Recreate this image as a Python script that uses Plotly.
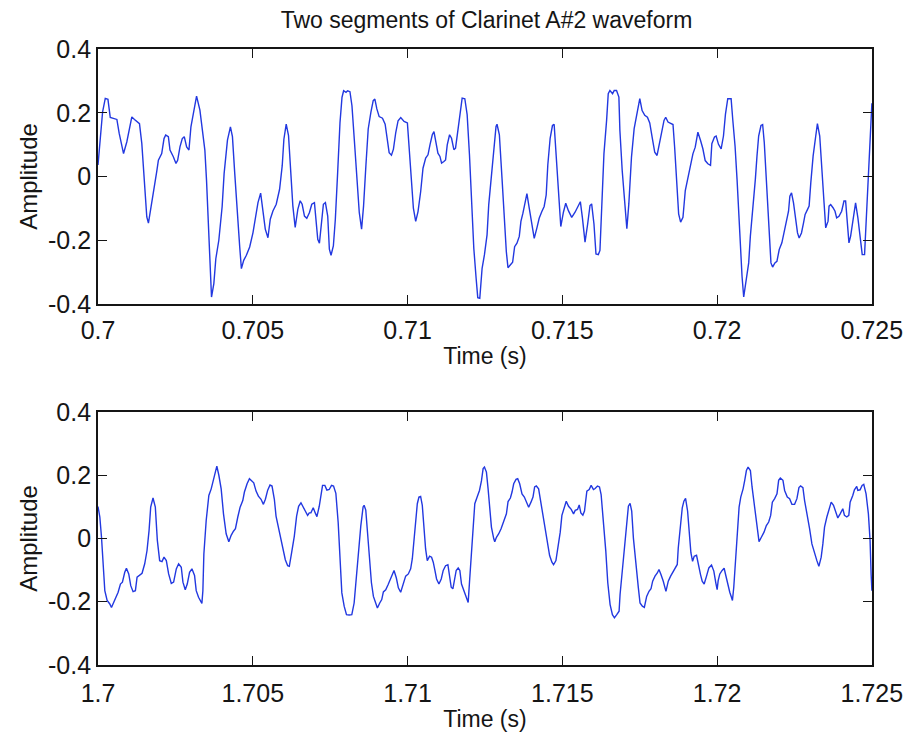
import plotly.graph_objects as go

# ---------------- data ----------------
seg1_start = 0.700   # s
seg2_start = 1.700   # s

# segment 1: time offsets in ms from 0.700 s, amplitude
top_ms = [
    0.000, 0.074, 0.149, 0.235, 0.321, 0.396, 0.503, 0.610, 0.685, 0.825,
    0.932, 1.018, 1.093, 1.179, 1.254, 1.340, 1.415, 1.500, 1.576, 1.629,
    1.683, 1.790, 1.897, 1.951, 2.058, 2.133, 2.187, 2.273, 2.326, 2.433,
    2.519, 2.573, 2.648, 2.723, 2.787, 2.863, 2.938, 3.002, 3.077, 3.184,
    3.292, 3.366, 3.452, 3.506, 3.560, 3.613, 3.667, 3.742, 3.806, 3.903,
    4.010, 4.074, 4.182, 4.278, 4.343, 4.418, 4.504, 4.578, 4.632, 4.707,
    4.793, 4.900,
    5.007, 5.093, 5.168, 5.254, 5.329, 5.404, 5.490, 5.565, 5.651, 5.758,
    5.866, 5.951, 6.005, 6.080, 6.155, 6.219, 6.294, 6.370, 6.455, 6.531,
    6.595, 6.670, 6.745, 6.831, 6.906, 6.992, 7.045, 7.099, 7.153, 7.206,
    7.281, 7.346, 7.421, 7.474, 7.528, 7.603, 7.667, 7.742, 7.818, 7.882,
    7.935, 8.011, 8.064, 8.139, 8.204, 8.279, 8.354, 8.440, 8.515, 8.579,
    8.654, 8.729, 8.815, 8.890, 8.944, 9.008, 9.083, 9.190, 9.276, 9.330,
    9.405, 9.480, 9.544, 9.619, 9.694, 9.780, 9.855,
    9.887, 9.995, 10.048, 10.123, 10.188, 10.263, 10.338, 10.424, 10.499, 10.585,
    10.660, 10.724, 10.799, 10.853, 10.906, 10.981, 11.046, 11.099, 11.174, 11.228,
    11.282, 11.357, 11.421, 11.496, 11.550, 11.625, 11.711, 11.764, 11.850, 11.925,
    12.000, 12.065, 12.140, 12.215, 12.268, 12.333, 12.408, 12.483, 12.568, 12.622,
    12.697, 12.783, 12.858, 12.890, 12.966, 13.051, 13.126, 13.191, 13.244, 13.319,
    13.394, 13.459, 13.534, 13.609, 13.662, 13.727, 13.781, 13.856, 13.931, 14.016,
    14.092, 14.177, 14.252, 14.338, 14.413, 14.478, 14.531, 14.606, 14.681, 14.735,
    14.800, 14.875,
    14.950, 15.035, 15.110, 15.196, 15.303, 15.411, 15.518, 15.582, 15.647, 15.733,
    15.818, 15.894, 15.947, 16.022, 16.087, 16.162, 16.215, 16.269, 16.344, 16.430,
    16.483, 16.537, 16.623, 16.676, 16.751, 16.827, 16.859, 16.934, 17.020, 17.084,
    17.148, 17.234, 17.320, 17.416, 17.502, 17.577, 17.663, 17.749, 17.824, 17.899,
    17.985, 18.060, 18.124, 18.221, 18.285, 18.339, 18.414, 18.489, 18.575, 18.628,
    18.703, 18.757, 18.821, 18.897, 18.972, 19.058, 19.133, 19.218, 19.293, 19.379,
    19.465, 19.540, 19.615, 19.701, 19.787, 19.830, 19.915,
    19.969, 20.044, 20.130, 20.205, 20.269, 20.344, 20.452, 20.505, 20.580, 20.644,
    20.698, 20.752, 20.805, 20.859, 20.934, 21.020, 21.074, 21.149, 21.235, 21.288,
    21.342, 21.417, 21.471, 21.524, 21.599, 21.664, 21.739, 21.792, 21.867, 21.932,
    22.007, 22.092, 22.146, 22.221, 22.307, 22.350, 22.404, 22.468, 22.543, 22.597,
    22.650, 22.725, 22.790, 22.843, 22.918, 22.972, 23.026, 23.101, 23.186, 23.240,
    23.315, 23.380, 23.455, 23.508, 23.584, 23.616, 23.669, 23.744, 23.809, 23.862,
    23.937, 24.023, 24.098, 24.151, 24.205, 24.259, 24.313, 24.388, 24.473, 24.548,
    24.613, 24.688, 24.763, 24.817, 24.881, 24.935, 24.989, 25.000,
]
top_amp = [
    0.036, 0.125, 0.203, 0.245, 0.242, 0.185, 0.182, 0.179, 0.135, 0.072,
    0.109, 0.146, 0.187, 0.179, 0.174, 0.166, 0.104, -0.012, -0.127, -0.146,
    -0.116, -0.043, 0.015, 0.051, 0.072, 0.119, 0.130, 0.125, 0.083, 0.062,
    0.041, 0.051, 0.093, 0.119, 0.125, 0.093, 0.083, 0.156, 0.198, 0.252,
    0.208, 0.146, 0.083, -0.012, -0.148, -0.284, -0.378, -0.336, -0.258, -0.200,
    -0.095, 0.009, 0.114, 0.156, 0.125, 0.009, -0.127, -0.221, -0.289, -0.263,
    -0.247, -0.221,
    -0.176, -0.118, -0.082, -0.052, -0.103, -0.165, -0.192, -0.134, -0.108, -0.087,
    -0.040, 0.034, 0.117, 0.164, 0.128, 0.013, -0.092, -0.160, -0.103, -0.076,
    -0.087, -0.124, -0.131, -0.113, -0.087, -0.082, -0.134, -0.197, -0.209, -0.155,
    -0.087, -0.082, -0.124, -0.228, -0.247, -0.218, -0.134, 0.013, 0.170, 0.248,
    0.269, 0.264, 0.269, 0.266, 0.222, 0.117, -0.008, -0.113, -0.165, -0.092,
    0.034, 0.149, 0.201, 0.238, 0.243, 0.212, 0.188, 0.183, 0.164, 0.128,
    0.075, 0.067, 0.086, 0.138, 0.175, 0.185, 0.175,
    0.173, 0.168, 0.099, -0.026, -0.099, -0.141, -0.110, -0.047, 0.026, 0.058,
    0.068, 0.099, 0.131, 0.141, 0.115, 0.073, 0.063, 0.042, 0.047, 0.052,
    0.099, 0.131, 0.120, 0.084, 0.089, 0.141, 0.199, 0.246, 0.244, 0.194,
    0.068, -0.068, -0.225, -0.319, -0.380, -0.382, -0.288, -0.246, -0.183, -0.089,
    -0.005, 0.089, 0.157, 0.164, 0.131, -0.005, -0.131, -0.236, -0.286, -0.277,
    -0.269, -0.220, -0.209, -0.188, -0.141, -0.115, -0.089, -0.054, -0.099, -0.152,
    -0.194, -0.162, -0.131, -0.110, -0.094, -0.058, 0.037, 0.120, 0.160, 0.164,
    0.068, -0.068,
    -0.157, -0.112, -0.084, -0.107, -0.128, -0.112, -0.091, -0.079, -0.128, -0.206,
    -0.149, -0.091, -0.086, -0.149, -0.243, -0.245, -0.232, -0.086, 0.071, 0.176,
    0.260, 0.270, 0.260, 0.270, 0.270, 0.249, 0.145, 0.019, -0.096, -0.164,
    -0.086, 0.061, 0.150, 0.207, 0.244, 0.207, 0.192, 0.186, 0.168, 0.124,
    0.076, 0.066, 0.103, 0.145, 0.176, 0.186, 0.171, 0.168, 0.163, 0.092,
    -0.023, -0.117, -0.143, -0.128, -0.044, -0.002, 0.029, 0.071, 0.092, 0.139,
    0.113, 0.087, 0.050, 0.040, 0.035, 0.103, 0.124,
    0.127, 0.101, 0.087, 0.127, 0.195, 0.244, 0.244, 0.179, 0.095, -0.009,
    -0.125, -0.229, -0.313, -0.378, -0.334, -0.271, -0.187, -0.114, -0.009, 0.064,
    0.127, 0.160, 0.163, 0.106, -0.030, -0.156, -0.271, -0.284, -0.271, -0.266,
    -0.229, -0.208, -0.182, -0.151, -0.109, -0.062, -0.051, -0.083, -0.130, -0.177,
    -0.193, -0.177, -0.146, -0.119, -0.104, -0.093, -0.020, 0.064, 0.127, 0.166,
    0.127, 0.043, -0.083, -0.161, -0.140, -0.093, -0.088, -0.098, -0.109, -0.130,
    -0.125, -0.109, -0.077, -0.077, -0.146, -0.208, -0.187, -0.130, -0.083, -0.130,
    -0.187, -0.245, -0.245, -0.146, -0.030, 0.095, 0.200, 0.230,
]

# segment 2: time offsets in ms from 1.700 s, amplitude
bot_ms = [
    0.000, 0.059, 0.113, 0.166, 0.220, 0.295, 0.381, 0.435, 0.510, 0.574,
    0.650, 0.725, 0.789, 0.864, 0.918, 0.993, 1.058, 1.133, 1.208, 1.262,
    1.348, 1.423, 1.509, 1.584, 1.649, 1.702, 1.777, 1.852, 1.917, 1.992,
    2.067, 2.132, 2.207, 2.282, 2.368, 2.443, 2.529, 2.604, 2.690, 2.744,
    2.819, 2.883, 2.958, 3.034, 3.119, 3.173, 3.248, 3.313, 3.356, 3.388,
    3.420, 3.495, 3.581, 3.657, 3.732, 3.796, 3.839, 3.904, 3.979, 4.054,
    4.140, 4.226, 4.301, 4.376, 4.440, 4.516, 4.591, 4.677, 4.730, 4.816,
    4.892,
    5.031, 5.106, 5.181, 5.267, 5.343, 5.407, 5.482, 5.557, 5.622, 5.697,
    5.751, 5.826, 5.912, 5.987, 6.051, 6.127, 6.180, 6.255, 6.341, 6.416,
    6.481, 6.556, 6.631, 6.696, 6.771, 6.825, 6.878, 6.953, 7.018, 7.072,
    7.147, 7.222, 7.254, 7.329, 7.394, 7.469, 7.544, 7.609, 7.684, 7.759,
    7.823, 7.877, 7.952, 8.027, 8.113, 8.199, 8.274, 8.349, 8.414, 8.489,
    8.564, 8.596, 8.650, 8.704, 8.757, 8.833, 8.897, 8.972, 9.026, 9.101,
    9.166, 9.219, 9.295, 9.370, 9.434, 9.509, 9.563, 9.638, 9.703, 9.778,
    9.853, 9.939,
    10.025, 10.100, 10.154, 10.207, 10.261, 10.315, 10.368, 10.422, 10.476, 10.529,
    10.583, 10.637, 10.712, 10.776, 10.830, 10.884, 10.937, 11.013, 11.088, 11.152,
    11.228, 11.303, 11.356, 11.410, 11.464, 11.517, 11.571, 11.636, 11.689, 11.743,
    11.818, 11.872, 11.926, 11.958, 12.001, 12.065, 12.119, 12.172, 12.248, 12.323,
    12.387, 12.441, 12.484, 12.548, 12.602, 12.656, 12.709, 12.785, 12.817, 12.871,
    12.946, 13.021, 13.075, 13.139, 13.193, 13.247, 13.322, 13.375, 13.429, 13.504,
    13.558, 13.622, 13.697, 13.773, 13.837, 13.912, 13.987, 14.052, 14.105, 14.159,
    14.234, 14.288, 14.363, 14.449, 14.524, 14.589, 14.664, 14.717, 14.793, 14.857,
    14.932, 14.986,
    15.061, 15.126, 15.201, 15.287, 15.362, 15.416, 15.491, 15.545, 15.598, 15.663,
    15.716, 15.759, 15.792, 15.867, 15.931, 16.006, 16.060, 16.135, 16.200, 16.253,
    16.329, 16.404, 16.468, 16.543, 16.618, 16.683, 16.758, 16.833, 16.865, 16.940,
    17.005, 17.080, 17.134, 17.188, 17.241, 17.295, 17.370, 17.456, 17.510, 17.585,
    17.649, 17.724, 17.800, 17.864, 17.918, 17.993, 18.068, 18.122, 18.186, 18.261,
    18.347, 18.422, 18.498, 18.584, 18.659, 18.713, 18.745, 18.798, 18.874, 18.927,
    18.981, 19.046, 19.099, 19.153, 19.207, 19.260, 19.335, 19.389, 19.464, 19.518,
    19.582, 19.658, 19.733, 19.819, 19.894, 19.958, 20.001,
    20.034, 20.087, 20.162, 20.227, 20.281, 20.356, 20.409, 20.463, 20.495, 20.538,
    20.592, 20.656, 20.710, 20.764, 20.839, 20.892, 20.946, 21.000, 21.075, 21.129,
    21.193, 21.268, 21.322, 21.354, 21.429, 21.515, 21.591, 21.666, 21.730, 21.784,
    21.859, 21.934, 21.988, 22.042, 22.127, 22.181, 22.267, 22.342, 22.417, 22.503,
    22.578, 22.643, 22.697, 22.772, 22.826, 22.912, 22.987, 23.062, 23.148, 23.223,
    23.287, 23.362, 23.416, 23.470, 23.545, 23.609, 23.685, 23.760, 23.824, 23.899,
    23.975, 24.060, 24.114, 24.189, 24.254, 24.297, 24.382, 24.436, 24.511, 24.544,
    24.619, 24.683, 24.737, 24.812, 24.887, 24.941, 24.975, 25.000,
]
bot_amp = [
    0.101, 0.068, 0.004, -0.091, -0.165, -0.196, -0.207, -0.218, -0.202, -0.184,
    -0.170, -0.144, -0.138, -0.107, -0.094, -0.112, -0.149, -0.168, -0.165, -0.122,
    -0.114, -0.110, -0.080, -0.038, 0.025, 0.099, 0.128, 0.099, -0.006, -0.070,
    -0.073, -0.059, -0.070, -0.112, -0.142, -0.138, -0.096, -0.080, -0.091, -0.138,
    -0.162, -0.144, -0.107, -0.096, -0.117, -0.165, -0.186, -0.200, -0.205, -0.165,
    -0.049, 0.057, 0.136, 0.157, 0.189, 0.221, 0.229, 0.200, 0.157, 0.078,
    0.015, -0.010, 0.010, 0.023, 0.031, 0.068, 0.099, 0.120, 0.147, 0.173,
    0.189,
    0.176, 0.150, 0.134, 0.124, 0.108, 0.124, 0.153, 0.169, 0.166, 0.124,
    0.071, 0.034, -0.003, -0.035, -0.067, -0.086, -0.088, -0.045, 0.007, 0.071,
    0.102, 0.113, 0.097, 0.087, 0.073, 0.081, 0.081, 0.097, 0.081, 0.069,
    0.102, 0.145, 0.168, 0.168, 0.153, 0.155, 0.168, 0.166, 0.143, 0.050,
    -0.067, -0.172, -0.214, -0.241, -0.242, -0.241, -0.204, -0.119, -0.035, 0.039,
    0.100, 0.105, 0.090, 0.029, -0.045, -0.140, -0.183, -0.209, -0.220, -0.204,
    -0.193, -0.169, -0.162, -0.146, -0.130, -0.111, -0.101, -0.125, -0.156, -0.170,
    -0.146, -0.119,
    -0.112, -0.096, -0.064, -0.012, 0.062, 0.110, 0.131, 0.133, 0.105, 0.031,
    -0.033, -0.070, -0.056, -0.059, -0.075, -0.101, -0.128, -0.144, -0.128, -0.101,
    -0.086, -0.083, -0.117, -0.154, -0.159, -0.122, -0.101, -0.093, -0.101, -0.144,
    -0.165, -0.178, -0.191, -0.202, -0.138, -0.033, 0.052, 0.110, 0.131, 0.152,
    0.182, 0.221, 0.226, 0.210, 0.157, 0.089, 0.036, -0.001, -0.010, 0.004,
    0.015, 0.031, 0.046, 0.057, 0.078, 0.117, 0.128, 0.147, 0.173, 0.187,
    0.189, 0.173, 0.141, 0.131, 0.115, 0.099, 0.115, 0.131, 0.163, 0.166,
    0.157, 0.126, 0.078, 0.025, -0.022, -0.054, -0.075, -0.083, -0.070, -0.033,
    0.020, 0.073,
    0.097, 0.118, 0.102, 0.092, 0.078, 0.089, 0.092, 0.106, 0.081, 0.074,
    0.087, 0.129, 0.150, 0.155, 0.168, 0.155, 0.158, 0.166, 0.163, 0.139,
    0.055, -0.040, -0.140, -0.209, -0.241, -0.251, -0.241, -0.230, -0.177, -0.103,
    -0.030, 0.055, 0.102, 0.111, 0.087, 0.002, -0.082, -0.156, -0.204, -0.214,
    -0.218, -0.183, -0.167, -0.159, -0.135, -0.119, -0.109, -0.098, -0.114, -0.135,
    -0.167, -0.135, -0.119, -0.103, -0.093, -0.082, -0.030, 0.034, 0.097, 0.118,
    0.127, 0.087, 0.013, -0.045, -0.072, -0.056, -0.053, -0.082, -0.114, -0.135,
    -0.144, -0.119, -0.093, -0.084, -0.103, -0.140, -0.162,
    -0.133, -0.112, -0.101, -0.094, -0.117, -0.154, -0.170, -0.186, -0.196, -0.154,
    -0.070, 0.015, 0.099, 0.131, 0.157, 0.184, 0.215, 0.226, 0.215, 0.163,
    0.110, 0.046, 0.004, -0.010, 0.004, 0.020, 0.041, 0.052, 0.073, 0.115,
    0.126, 0.141, 0.184, 0.191, 0.184, 0.152, 0.131, 0.126, 0.108, 0.108,
    0.126, 0.161, 0.166, 0.161, 0.120, 0.078, 0.031, -0.017, -0.049, -0.070,
    -0.088, -0.059, -0.017, 0.036, 0.068, 0.094, 0.115, 0.105, 0.083, 0.065,
    0.078, 0.094, 0.073, 0.068, 0.073, 0.115, 0.136, 0.154, 0.165, 0.152,
    0.154, 0.168, 0.171, 0.141, 0.078, -0.006, -0.112, -0.165,
]

top_xticks = [0.700, 0.705, 0.710, 0.715, 0.720, 0.725]
top_xlabels = ["0.7", "0.705", "0.71", "0.715", "0.72", "0.725"]
bot_xticks = [1.700, 1.705, 1.710, 1.715, 1.720, 1.725]
bot_xlabels = ["1.7", "1.705", "1.71", "1.715", "1.72", "1.725"]
yticks = [-0.4, -0.2, 0.0, 0.2, 0.4]
ylabels = ["-0.4", "-0.2", "0", "0.2", "0.4"]

title_text = "Two segments of Clarinet A#2 waveform"
xlabel_text = "Time (s)"
ylabel_text = "Amplitude"

assert len(top_ms) == len(top_amp)
assert len(bot_ms) == len(bot_amp)

top_t = [seg1_start + m / 1000.0 for m in top_ms]
bot_t = [seg2_start + m / 1000.0 for m in bot_ms]

# ---------------- figure ----------------
FONT = "Liberation Sans, Arial, sans-serif"
INK = "#151515"
BLUE = "#2238e0"

fig = go.Figure()
fig.add_trace(go.Scatter(x=top_t, y=top_amp, mode="lines",
                         line=dict(color=BLUE, width=1.4),
                         xaxis="x", yaxis="y", showlegend=False, hoverinfo="skip"))
fig.add_trace(go.Scatter(x=bot_t, y=bot_amp, mode="lines",
                         line=dict(color=BLUE, width=1.4),
                         xaxis="x2", yaxis="y2", showlegend=False, hoverinfo="skip"))

common = dict(showline=True, linecolor=INK, linewidth=1.8, mirror="ticks",
              ticks="inside", ticklen=9, tickwidth=1.3, tickcolor=INK,
              showgrid=False, zeroline=False, automargin=False,
              tickfont=dict(family=FONT, size=25, color=INK))

xtitle_font = dict(family=FONT, size=23, color=INK)
ytitle_font = dict(family=FONT, size=24, color=INK)

fig.update_layout(
    template="none",
    width=906, height=732,
    paper_bgcolor="white", plot_bgcolor="white",
    margin=dict(l=98, r=31, t=49, b=67, autoexpand=False),
    title=dict(text=title_text, x=0.5, xref="paper", xanchor="center",
               y=1 - 20 / 732, yref="container", yanchor="middle",
               font=dict(family=FONT, size=23, color=INK)),
    xaxis=dict(domain=[0, 0.996], anchor="y", range=[0.7, 0.725],
               tickvals=top_xticks, ticktext=top_xlabels, ticklabelstandoff=3,
               title=dict(text=xlabel_text, standoff=5, font=xtitle_font),
               **common),
    yaxis=dict(domain=[0.586, 1], anchor="x", range=[-0.4, 0.4],
               tickvals=yticks, ticktext=ylabels,
               title=dict(text=ylabel_text, standoff=4, font=ytitle_font),
               **common),
    xaxis2=dict(domain=[0, 0.996], anchor="y2", range=[1.7, 1.725],
                tickvals=bot_xticks, ticktext=bot_xlabels, ticklabelstandoff=5,
                title=dict(text=xlabel_text, standoff=5, font=xtitle_font),
                **common),
    yaxis2=dict(domain=[0, 0.4107], anchor="x2", range=[-0.4, 0.4],
                tickvals=yticks, ticktext=ylabels,
                title=dict(text=ylabel_text, standoff=4, font=ytitle_font),
                **common),
)

fig.write_html("out.html")
